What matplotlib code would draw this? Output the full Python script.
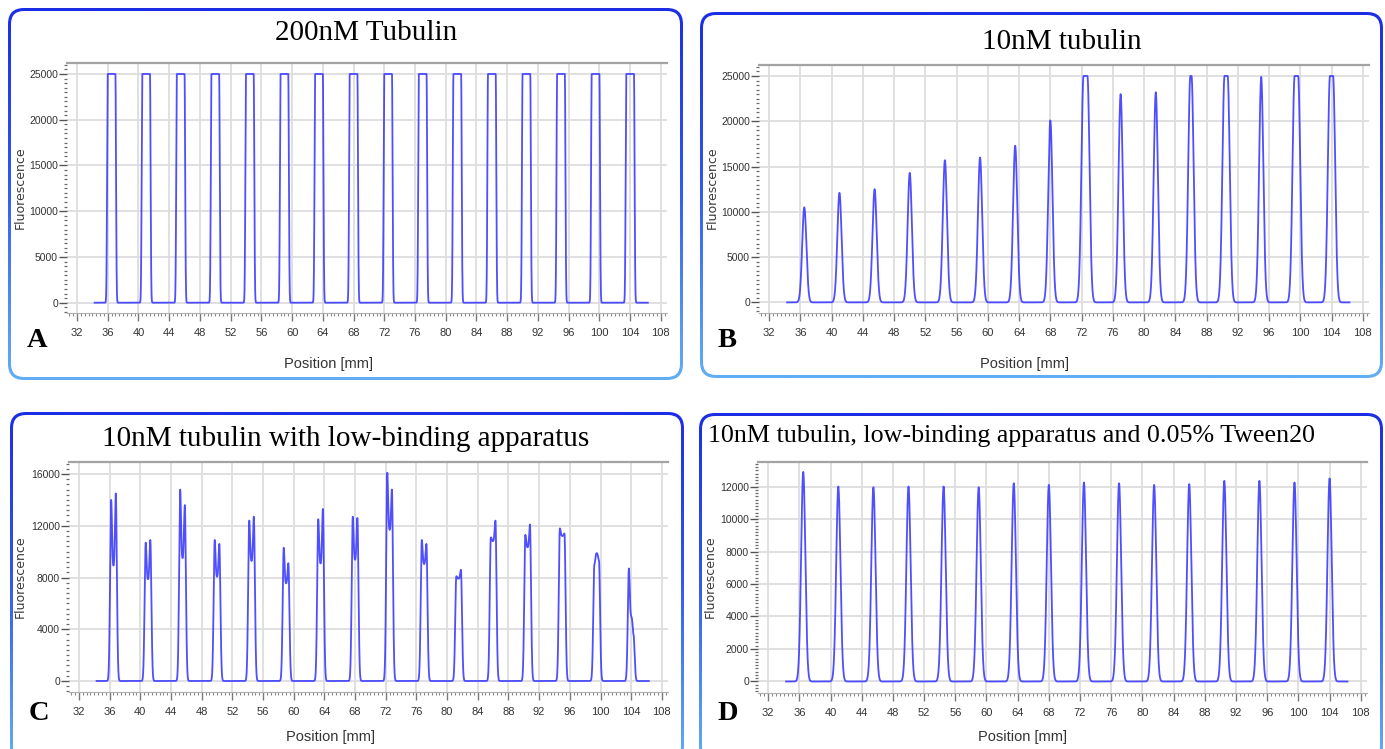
import numpy as np
import matplotlib
matplotlib.use("Agg")
import matplotlib.pyplot as plt
from matplotlib.patches import FancyBboxPatch
from matplotlib.colors import LinearSegmentedColormap
from matplotlib.ticker import MultipleLocator, FixedLocator

W, H = 1385, 749

# ---- data -------------------------------------------------------------
well_pos = [36.5, 41.0, 45.5, 50.0, 54.5, 59.0, 63.5, 68.0,
            72.5, 77.0, 81.5, 86.0, 90.5, 95.0, 99.5, 104.0]
scan_start, scan_end = 34.3, 106.3
x_ticks = [32, 36, 40, 44, 48, 52, 56, 60, 64, 68, 72, 76,
           80, 84, 88, 92, 96, 100, 104, 108]

# A: 200 nM tubulin (detector saturated at 25000)
a_height = [25000, 25000, 25000, 25000, 25000, 25000, 25000, 25000,
            25000, 25000, 25000, 25000, 25000, 25000, 25000, 25000]
a_top_mm = [1.0, 1.0, 1.0, 1.0, 1.0, 1.0, 1.0, 1.0,
            1.0, 1.0, 1.0, 1.0, 1.0, 1.0, 1.0, 1.0]

# B: 10 nM tubulin
b_height = [10500, 12100, 12500, 14300, 15700, 16000, 17300, 20100,
            25000, 23000, 23200, 25000, 25000, 24900, 25000, 25000]
b_top_mm = [0, 0, 0, 0, 0, 0, 0, 0,
            0.5, 0, 0, 0.15, 0.4, 0, 0.45, 0.4]

# C: 10 nM tubulin, low-binding apparatus (rim spikes and central dip)
c_left = [14000, 10700, 14800, 10900, 12400, 10300, 12500, 12700,
          16100, 10900, 8100, 11100, 11300, 11800, 9000, 8700]
c_dip = [8800, 7800, 9400, 8000, 9200, 7500, 9000, 9300,
         11600, 9000, 7900, 10800, 10300, 11200, 9900, 5000]
c_right = [14500, 10900, 13600, 10600, 12700, 9100, 13300, 12600,
           14800, 10600, 8600, 12400, 12100, 11400, 9300, 3600]

# D: 10 nM tubulin, low-binding apparatus and 0.05% Tween20
d_height = [12900, 12000, 11950, 12000, 12000, 11950, 12200, 12100,
            12250, 12200, 12100, 12150, 12350, 12350, 12250, 12500]

titles = ["200nM Tubulin", "10nM tubulin",
          "10nM tubulin with low-binding apparatus",
          "10nM tubulin, low-binding apparatus and 0.05% Tween20"]
letters = ["A", "B", "C", "D"]

# ---- trace shapes -----------------------------------------------------
xs = np.linspace(scan_start, scan_end, 6000)


def flat_top_scan(x, pos, heights, tops, sig):
    y = np.zeros_like(x)
    for c, h, t in zip(pos, heights, tops):
        d = np.clip(np.abs(x - c) - t / 2.0, 0, None)
        y = np.maximum(y, h * np.exp(-d ** 2 / (2 * sig ** 2)))
    return y


def rim_scan(x, pos, left, dip, right, half=0.3, s_out=0.14, s_in=0.1):
    y = np.zeros_like(x)
    for c, hl, dm, hr in zip(pos, left, dip, right):
        xl, xr = c - half, c + half
        seg = np.zeros_like(x)
        lo = x < xl
        hi = x > xr
        mid = ~lo & ~hi
        seg[lo] = hl * np.exp(-(x[lo] - xl) ** 2 / (2 * s_out ** 2))
        seg[hi] = hr * np.exp(-(x[hi] - xr) ** 2 / (2 * s_out ** 2))
        xm = x[mid]
        seg[mid] = (dm + (hl - dm) * np.exp(-(xm - xl) ** 2 / (2 * s_in ** 2))
                    + (hr - dm) * np.exp(-(xm - xr) ** 2 / (2 * s_in ** 2)))
        y = np.maximum(y, seg)
    return y


traces = [
    flat_top_scan(xs, well_pos, a_height, a_top_mm, 0.08),
    flat_top_scan(xs, well_pos, b_height, b_top_mm, 0.27),
    rim_scan(xs, well_pos, c_left, c_dip, c_right),
    flat_top_scan(xs, well_pos, d_height, [0] * 16, 0.27),
]

# ---- layout (pixel boxes) ---------------------------------------------
frames = [(8, 8, 683, 380), (700, 12, 1383, 378),
          (10, 412, 684, 762), (699, 413, 1383, 762)]
plot_boxes = [(67, 63, 667, 313), (759, 65, 1369, 313),
              (69, 462, 668, 692), (758, 462, 1367, 693)]
ylims = [(-1126, 26200), (-1170, 26213), (-850, 16928), (-708, 13508)]
ymajor = [5000, 5000, 4000, 2000]
title_pos = [(366, 40, 21, "center"), (1062, 49, 21, "center"),
             (346, 446, 21, "center"), (708, 442, 18.7, "left")]
letter_pos = [(27, 347), (718, 347), (29, 720), (718, 720)]
ylabel_pos = [(20, 188), (712, 188), (20, 577), (710, 577)]
xlabel_pos = [(329, 364), (1025, 364), (330, 737), (1023, 737)]

sans = ["Liberation Sans", "DejaVu Sans"]

fig = plt.figure(figsize=(W / 100, H / 100), dpi=100)
fig.patch.set_facecolor("white")

bg = fig.add_axes([0, 0, 1, 1], zorder=-5)
bg.set_xlim(0, W)
bg.set_ylim(H, 0)
bg.axis("off")

border_cmap = LinearSegmentedColormap.from_list(
    "frame", [(0.0, "#1b2ee6"), (0.45, "#2f55ee"), (1.0, "#62aef5")])

for (x0, y0, x1, y1) in frames:
    outer = FancyBboxPatch((x0, y0), x1 - x0, y1 - y0,
                           boxstyle="round,pad=0,rounding_size=16",
                           facecolor="none", edgecolor="none")
    bg.add_patch(outer)
    grad = np.linspace(0, 1, 256)[:, None]
    im = bg.imshow(grad, extent=(x0, x1, y1, y0), cmap=border_cmap,
                   aspect="auto", origin="upper", zorder=1)
    im.set_clip_path(outer)
    inner = FancyBboxPatch((x0 + 3, y0 + 3), x1 - x0 - 6, y1 - y0 - 6,
                           boxstyle="round,pad=0,rounding_size=13",
                           facecolor="white", edgecolor="none", zorder=2)
    bg.add_patch(inner)
bg.set_xlim(0, W)
bg.set_ylim(H, 0)


def fx(px):
    return px / W


def fy(py):
    return 1 - py / H


for i in range(4):
    l, t, r, b = plot_boxes[i]
    ax = fig.add_axes([fx(l), fy(b), (r - l) / W, (b - t) / H])
    ax.set_facecolor("white")
    ax.plot(xs, traces[i], color="#3c3cff", lw=1.3, alpha=0.9,
            solid_joinstyle="round")
    ax.set_xlim(30.7, 108.8)
    ax.set_ylim(*ylims[i])
    ax.xaxis.set_major_locator(FixedLocator(x_ticks))
    ax.set_xticklabels([str(v) for v in x_ticks])
    ax.xaxis.set_minor_locator(MultipleLocator(0.5))
    ax.yaxis.set_major_locator(MultipleLocator(ymajor[i]))
    ax.yaxis.set_minor_locator(MultipleLocator(ymajor[i] / 10))
    ax.grid(True, which="major", color="#dddddd", lw=1.3)
    ax.set_axisbelow(True)
    ax.spines["right"].set_visible(False)
    ax.spines["left"].set_visible(False)
    ax.spines["top"].set_color("#a3a3a3")
    ax.spines["top"].set_linewidth(1.6)
    ax.spines["bottom"].set_color("#b0b0b0")
    ax.spines["bottom"].set_linewidth(0.8)
    ax.tick_params(axis="x", which="major", length=6, width=1.0,
                   color="#7a7a7a", labelsize=8, pad=5,
                   labelcolor="#333333")
    ax.tick_params(axis="x", which="minor", length=2.5, width=0.8,
                   color="#8a8a8a")
    ax.tick_params(axis="y", which="major", length=5.5, width=1.0,
                   color="#555555", labelsize=7.5, pad=1,
                   labelcolor="#333333")
    ax.tick_params(axis="y", which="minor", length=2, width=0.9,
                   color="#6a6a6a")
    for lab in ax.get_xticklabels() + ax.get_yticklabels():
        lab.set_fontfamily(sans)

    tx, ty, ts, ha = title_pos[i]
    fig.text(fx(tx), fy(ty), titles[i], ha=ha, va="baseline",
             fontsize=ts, family=["Liberation Serif", "DejaVu Serif"],
             color="black")
    lx, ly = letter_pos[i]
    fig.text(fx(lx), fy(ly), letters[i], ha="left", va="baseline",
             fontsize=20.5, fontweight="bold",
             family=["Liberation Serif", "DejaVu Serif"], color="black")
    yx, yy = ylabel_pos[i]
    fig.text(fx(yx), fy(yy), "Fluorescence", rotation=90, ha="center",
             va="center", fontsize=9, family="DejaVu Sans",
             color="#3a3a3a")
    xx, xy = xlabel_pos[i]
    fig.text(fx(xx), fy(xy), "Position [mm]", ha="center", va="center",
             fontsize=10.5, family=sans, color="#333333")

fig.savefig("out.png", dpi=100)
